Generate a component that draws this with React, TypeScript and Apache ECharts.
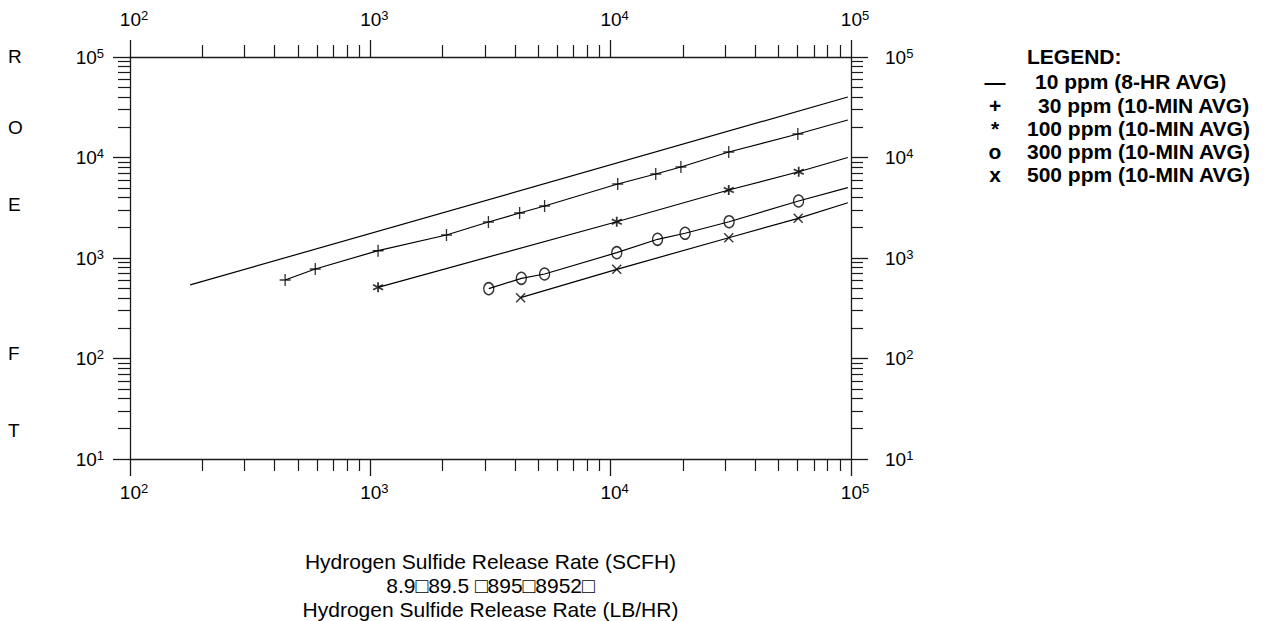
import React, { useEffect, useRef } from 'react';
import * as echarts from 'echarts';

// ---- data ----
const ppm10X = [178, 97000];
const ppm10Y = [540, 40000];

const ppm30X = [442, 590, 1077, 2074, 3100, 4180, 5310, 10700, 15400, 19600, 31000, 60100];
const ppm30Y = [604, 778, 1183, 1693, 2281, 2803, 3291, 5445, 6858, 8041, 11350, 17130];
const ppm30End = [97000, 23600];

const ppm100X = [1077, 10600, 31000, 60600];
const ppm100Y = [511, 2296, 4750, 7220];
const ppm100End = [97000, 10000];

const ppm300X = [3110, 4250, 5310, 10600, 15670, 20400, 31100, 60500];
const ppm300Y = [495, 628, 693, 1130, 1535, 1762, 2296, 3690];
const ppm300End = [97000, 5010];

const ppm500X = [4220, 10600, 31000, 60300];
const ppm500Y = [403, 771, 1592, 2483];
const ppm500End = [97000, 3548];

const legendTitle = 'LEGEND:';
const legendSymbols = ['\u2014', '+', '*', 'o', 'x'];
const legendLabels = [
  '10 ppm (8-HR AVG)',
  '30 ppm (10-MIN AVG)',
  '100 ppm (10-MIN AVG)',
  '300 ppm (10-MIN AVG)',
  '500 ppm (10-MIN AVG)',
];
const yLetters = ['R', 'O', 'E', 'F', 'T'];
const xTitle1 = 'Hydrogen Sulfide Release Rate (SCFH)';
const xTitle2 = '8.9\u25A189.5 \u25A1895\u25A18952\u25A1';
const xTitle3 = 'Hydrogen Sulfide Release Rate (LB/HR)';

const xMin = 100;
const xMax = 100000;
const yMin = 10;
const yMax = 100000;

// ---- styling / layout ----
const FONT = '"Liberation Sans", Arial, Helvetica, sans-serif';
const AX = '#1a1a1a';
const GRID = { left: 130, top: 57, width: 721, height: 402 };
const yLetterPos = [56, 127, 204, 353, 430];
const legendTextX = [1035, 1038, 1027, 1027, 1027];

function minorLogTicks(lo: number, hi: number) {
  const out: number[] = [];
  for (let e = lo; e < hi; e++) {
    for (let k = 2; k <= 9; k++) out.push(Math.log10(k * Math.pow(10, e)));
  }
  return out;
}

const rich = {
  b: { fontSize: 19, fontFamily: FONT, color: '#000', lineHeight: 21 },
  s: { fontSize: 13, fontFamily: FONT, color: '#000', lineHeight: 13, verticalAlign: 'top' },
};
const fmt = (v: number) => `{b|10}{s|${Math.round(Math.log10(v))}}`;

function logAxis(position: string, min: number, max: number, margin: number, padding: number[]) {
  return {
    type: 'log',
    logBase: 10,
    position,
    min,
    max,
    gridIndex: 0,
    axisLine: { show: true, onZero: false, lineStyle: { color: AX, width: 1.3 } },
    axisTick: { show: true, inside: false, length: 17, lineStyle: { color: AX, width: 1.3 } },
    minorTick: { show: false },
    splitLine: { show: false },
    minorSplitLine: { show: false },
    axisLabel: {
      show: true,
      margin,
      padding,
      fontSize: 19,
      fontFamily: FONT,
      color: '#000',
      formatter: fmt,
      rich,
      showMinLabel: true,
      showMaxLabel: true,
      hideOverlap: false,
    },
  };
}

function minorAxis(position: string, lo: number, hi: number) {
  return {
    type: 'value',
    position,
    min: lo,
    max: hi,
    gridIndex: 0,
    axisLine: { show: false, onZero: false },
    axisLabel: { show: false },
    splitLine: { show: false },
    axisTick: {
      show: true,
      inside: false,
      length: 12,
      customValues: minorLogTicks(lo, hi),
      lineStyle: { color: AX, width: 1.2 },
    },
  };
}

function lineSeries(xs: number[], ys: number[], end?: number[]) {
  const data = xs.map((x, i) => [x, ys[i]]);
  if (end) data.push(end);
  return {
    type: 'line',
    xAxisIndex: 0,
    yAxisIndex: 0,
    data,
    symbol: 'none',
    lineStyle: { color: '#000', width: 1.2 },
    silent: true,
    z: 3,
  };
}

function markSeries(xs: number[], ys: number[], symbol: string, size: number[], bw = 1.4) {
  return {
    type: 'scatter',
    xAxisIndex: 0,
    yAxisIndex: 0,
    data: xs.map((x, i) => [x, ys[i]]),
    symbol,
    symbolSize: size,
    itemStyle: { color: 'rgba(0,0,0,0)', borderColor: '#000', borderWidth: bw },
    silent: true,
    z: 5,
  };
}

const PLUS = 'path://M0,6L12,6M6,0L6,12';
const STAR = 'path://M5,0L5,10M0.67,2.5L9.33,7.5M0.67,7.5L9.33,2.5';
const CROSS = 'path://M0,0L10,10M0,10L10,0';

export default function App() {
  const ref = useRef<HTMLDivElement>(null);

  useEffect(() => {
    if (!ref.current) return;
    const chart = echarts.init(ref.current, null, { renderer: 'svg' });

    const graphic: any[] = [];
    yLetters.forEach((t, i) => {
      graphic.push({
        type: 'text',
        x: 8,
        y: yLetterPos[i],
        style: { text: t, fontSize: 19, fontFamily: FONT, fill: '#000', textAlign: 'left', textVerticalAlign: 'middle' },
      });
    });
    graphic.push({
      type: 'text',
      x: 1027,
      y: 56,
      style: { text: legendTitle, fontSize: 21, fontWeight: 'bold', fontFamily: FONT, fill: '#000', textAlign: 'left', textVerticalAlign: 'middle' },
    });
    legendLabels.forEach((t, i) => {
      const y = 81.7 + i * 23.3;
      graphic.push({
        type: 'text',
        x: 995,
        y,
        style: { text: legendSymbols[i], fontSize: 21, fontWeight: 'bold', fontFamily: FONT, fill: '#000', textAlign: 'center', textVerticalAlign: 'middle' },
      });
      graphic.push({
        type: 'text',
        x: legendTextX[i],
        y,
        style: { text: t, fontSize: 21, fontWeight: 'bold', fontFamily: FONT, fill: '#000', textAlign: 'left', textVerticalAlign: 'middle' },
      });
    });
    [xTitle1, xTitle2, xTitle3].forEach((t, i) => {
      graphic.push({
        type: 'text',
        x: 490.5,
        y: [561, 585, 609][i],
        style: { text: t, fontSize: 21, fontFamily: FONT, fill: '#000', textAlign: 'center', textVerticalAlign: 'middle' },
      });
    });

    chart.setOption({
      animation: false,
      backgroundColor: '#fff',
      grid: { ...GRID, containLabel: false },
      xAxis: [
        logAxis('bottom', xMin, xMax, 23, [0, 0, 0, 8]),
        logAxis('top', xMin, xMax, 27, [0, 0, 0, 8]),
        minorAxis('bottom', 2, 5),
        minorAxis('top', 2, 5),
      ],
      yAxis: [
        logAxis('left', yMin, yMax, 26, [0, 0, 0, 0]),
        logAxis('right', yMin, yMax, 34, [0, 0, 0, 0]),
        minorAxis('left', 1, 5),
        minorAxis('right', 1, 5),
      ],
      series: [
        lineSeries(ppm10X, ppm10Y),
        lineSeries(ppm30X, ppm30Y, ppm30End),
        lineSeries(ppm100X, ppm100Y, ppm100End),
        lineSeries(ppm300X, ppm300Y, ppm300End),
        lineSeries(ppm500X, ppm500Y, ppm500End),
        markSeries(ppm30X, ppm30Y, PLUS, [11, 12]),
        markSeries(ppm100X, ppm100Y, STAR, [10, 10], 1.8),
        markSeries(ppm300X, ppm300Y, 'circle', [10, 12]),
        markSeries(ppm500X, ppm500Y, CROSS, [9, 9]),
      ],
      graphic,
    });

    return () => chart.dispose();
  }, []);

  return (
    <div
      ref={ref}
      style={{ position: 'absolute', left: 0, top: 0, width: 1270, height: 621, background: '#fff' }}
    />
  );
}
